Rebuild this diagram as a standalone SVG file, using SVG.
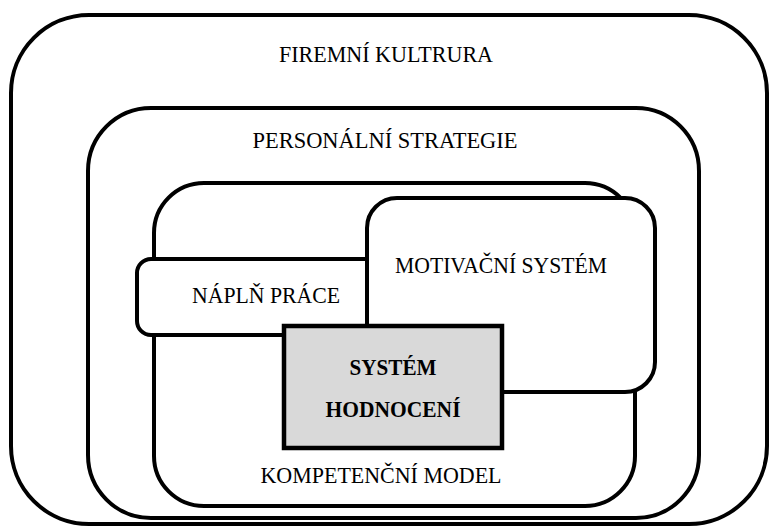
<svg xmlns="http://www.w3.org/2000/svg" width="772" height="526" viewBox="0 0 772 526">
  <style>
    .box { fill: #ffffff; stroke: #000000; stroke-width: 4; }
    .core { fill: #d9d9d9; stroke: #000000; stroke-width: 4.5; }
    .lbl { font-family: "Liberation Serif", "Times New Roman", serif; font-size: 23px; fill: #000000; text-anchor: middle; }
    .bold { font-weight: bold; }
  </style>
  <rect width="772" height="526" fill="#ffffff"/>
  <g id="firemni-kultura">
    <rect class="box" x="11" y="15" width="756" height="509" rx="78" ry="78"/>
    <text class="lbl" x="386" y="62" textLength="214" lengthAdjust="spacingAndGlyphs">FIREMNÍ KULTRURA</text>
  </g>
  <g id="personalni-strategie">
    <rect class="box" x="88" y="108" width="611" height="410" rx="63" ry="63"/>
    <text class="lbl" x="385" y="148" textLength="265" lengthAdjust="spacingAndGlyphs">PERSONÁLNÍ STRATEGIE</text>
  </g>
  <g id="kompetencni-model">
    <rect class="box" x="154" y="183" width="481" height="323" rx="50" ry="50"/>
    <text class="lbl" x="381" y="483" textLength="241" lengthAdjust="spacingAndGlyphs">KOMPETENČNÍ MODEL</text>
  </g>
  <g id="napln-prace">
    <rect class="box" x="137" y="259" width="250" height="76" rx="14" ry="14"/>
    <text class="lbl" x="266" y="303" textLength="148" lengthAdjust="spacingAndGlyphs">NÁPLŇ PRÁCE</text>
  </g>
  <g id="motivacni-system">
    <rect class="box" x="367" y="198" width="288" height="194" rx="30" ry="30"/>
    <text class="lbl" x="501" y="273" textLength="212" lengthAdjust="spacingAndGlyphs">MOTIVAČNÍ SYSTÉM</text>
  </g>
  <g id="system-hodnoceni">
    <rect class="core" x="284" y="326" width="218" height="122"/>
    <text class="lbl bold" x="393" y="375" textLength="87" lengthAdjust="spacingAndGlyphs">SYSTÉM</text>
    <text class="lbl bold" x="393" y="417" textLength="135" lengthAdjust="spacingAndGlyphs">HODNOCENÍ</text>
  </g>
  <g id="connectors"></g>
</svg>
